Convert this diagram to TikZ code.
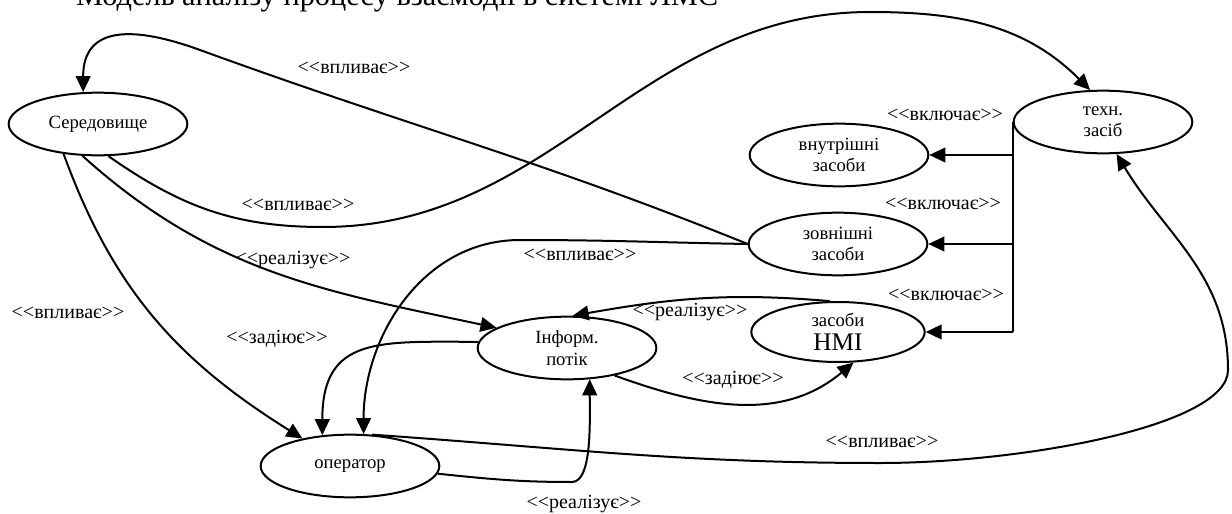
\documentclass[tikz,border=0pt]{standalone}
\usepackage{fontspec}
\setmainfont{Liberation Serif}
\usetikzlibrary{shapes.geometric,arrows.meta}
\newcommand{\stereo}[1]{<\kern0pt<#1>\kern0pt>}

\begin{document}
\begin{tikzpicture}[x=0.75pt,y=0.75pt,line width=1.5pt,
  elli/.style={draw,ellipse,minimum width=134pt,minimum height=47pt,align=center,font=\fontsize{14}{16}\selectfont},
  lbl/.style={font=\fontsize{15}{16}\selectfont},
  arr/.style={-{Triangle[length=12pt,width=11pt]}}]
\tikzstyle{every node}+=[inner sep=0pt]
\useasboundingbox (0,0) rectangle (1232,-514);
\node [anchor=base west,font=\fontsize{22.8}{24}\selectfont] (title) at (75,-6) {Модель аналізу процесу взаємодії в системі ЛМС};
\node [elli] (sered) at (98,-124) {Середовище};
\node [elli] (tech) at (1103,-122) {техн.\\засіб};
\node [elli] (vnutr) at (839,-155) {внутрішні\\засоби};
\node [elli] (zovn) at (838,-244) {зовнішні\\засоби};
\node [elli,minimum width=130pt,minimum height=45pt] (hmi) at (838,-332) {засоби\\[2pt]{\fontsize{19}{19}\selectfont HMI}};
\node [elli] (inform) at (567,-348) {Інформ.\\потік};
\node [elli] (oper) at (350,-466) {оператор};
\draw [arr] (zovn.west) to[out=158,in=-20] (200,-50) to[out=160,in=90,looseness=1.4] (sered.115);
\node [lbl] (l1) at (354,-68) {\stereo{впливає}};
\draw [arr] (zovn.west) to[out=179,in=0] (520,-240) to[out=180,in=90] (oper.67);
\node [lbl] (l4) at (580,-255) {\stereo{впливає}};
\draw [arr] (sered.-72) to[out=-35,in=180] (323,-227) to[out=0,in=180] (870,-12) to[out=0,in=135] (tech.112);
\node [lbl] (l2) at (298,-205) {\stereo{впливає}};
\draw [arr] (sered.-116) to[out=-42,in=168] (inform.164);
\node [lbl] (l3) at (293,-260) {\stereo{реалізує}};
\draw [arr] (sered.-139) to[out=-70,in=148] (oper.150);
\node [lbl] (l5) at (68,-313) {\stereo{впливає}};
\draw [arr] (inform.176) to[out=180,in=90,looseness=1.4] (oper.132);
\node [lbl] (l6) at (277,-339) {\stereo{задіює}};
\draw [arr] (oper.55) to[out=-4,in=180] (880,-463) to[out=0,in=-90,in looseness=0.4] (1228,-370) to[out=90,in=-59] (tech.-67);
\node [lbl] (l9) at (882,-442) {\stereo{впливає}};
\draw [arr] (oper.-5) to[out=-6,in=180] (572,-482) to[out=0,in=-90,out looseness=0.5] (inform.-54);
\node [lbl] (l10) at (584,-504) {\stereo{реалізує}};
\draw [arr] (inform.-30) to[out=-20,in=-140] (hmi.-63);
\node [lbl] (l8) at (733,-380) {\stereo{задіює}};
\draw [arr] (hmi.105) to[out=175,in=10] (inform.80);
\node [lbl] (l7) at (690,-312) {\stereo{реалізує}};
\draw (tech.west) -- (tech.west |- hmi.east);
\draw [arr] (tech.west |- vnutr.east) -- (vnutr.east);
\draw [arr] (tech.west |- zovn.east) -- (zovn.east);
\draw [arr] (tech.west |- hmi.east) -- (hmi.east);
\node [lbl] (v1) at (945,-115) {\stereo{включає}};
\node [lbl] (v2) at (943,-204) {\stereo{включає}};
\node [lbl] (v3) at (946,-295) {\stereo{включає}};
\end{tikzpicture}
\end{document}
